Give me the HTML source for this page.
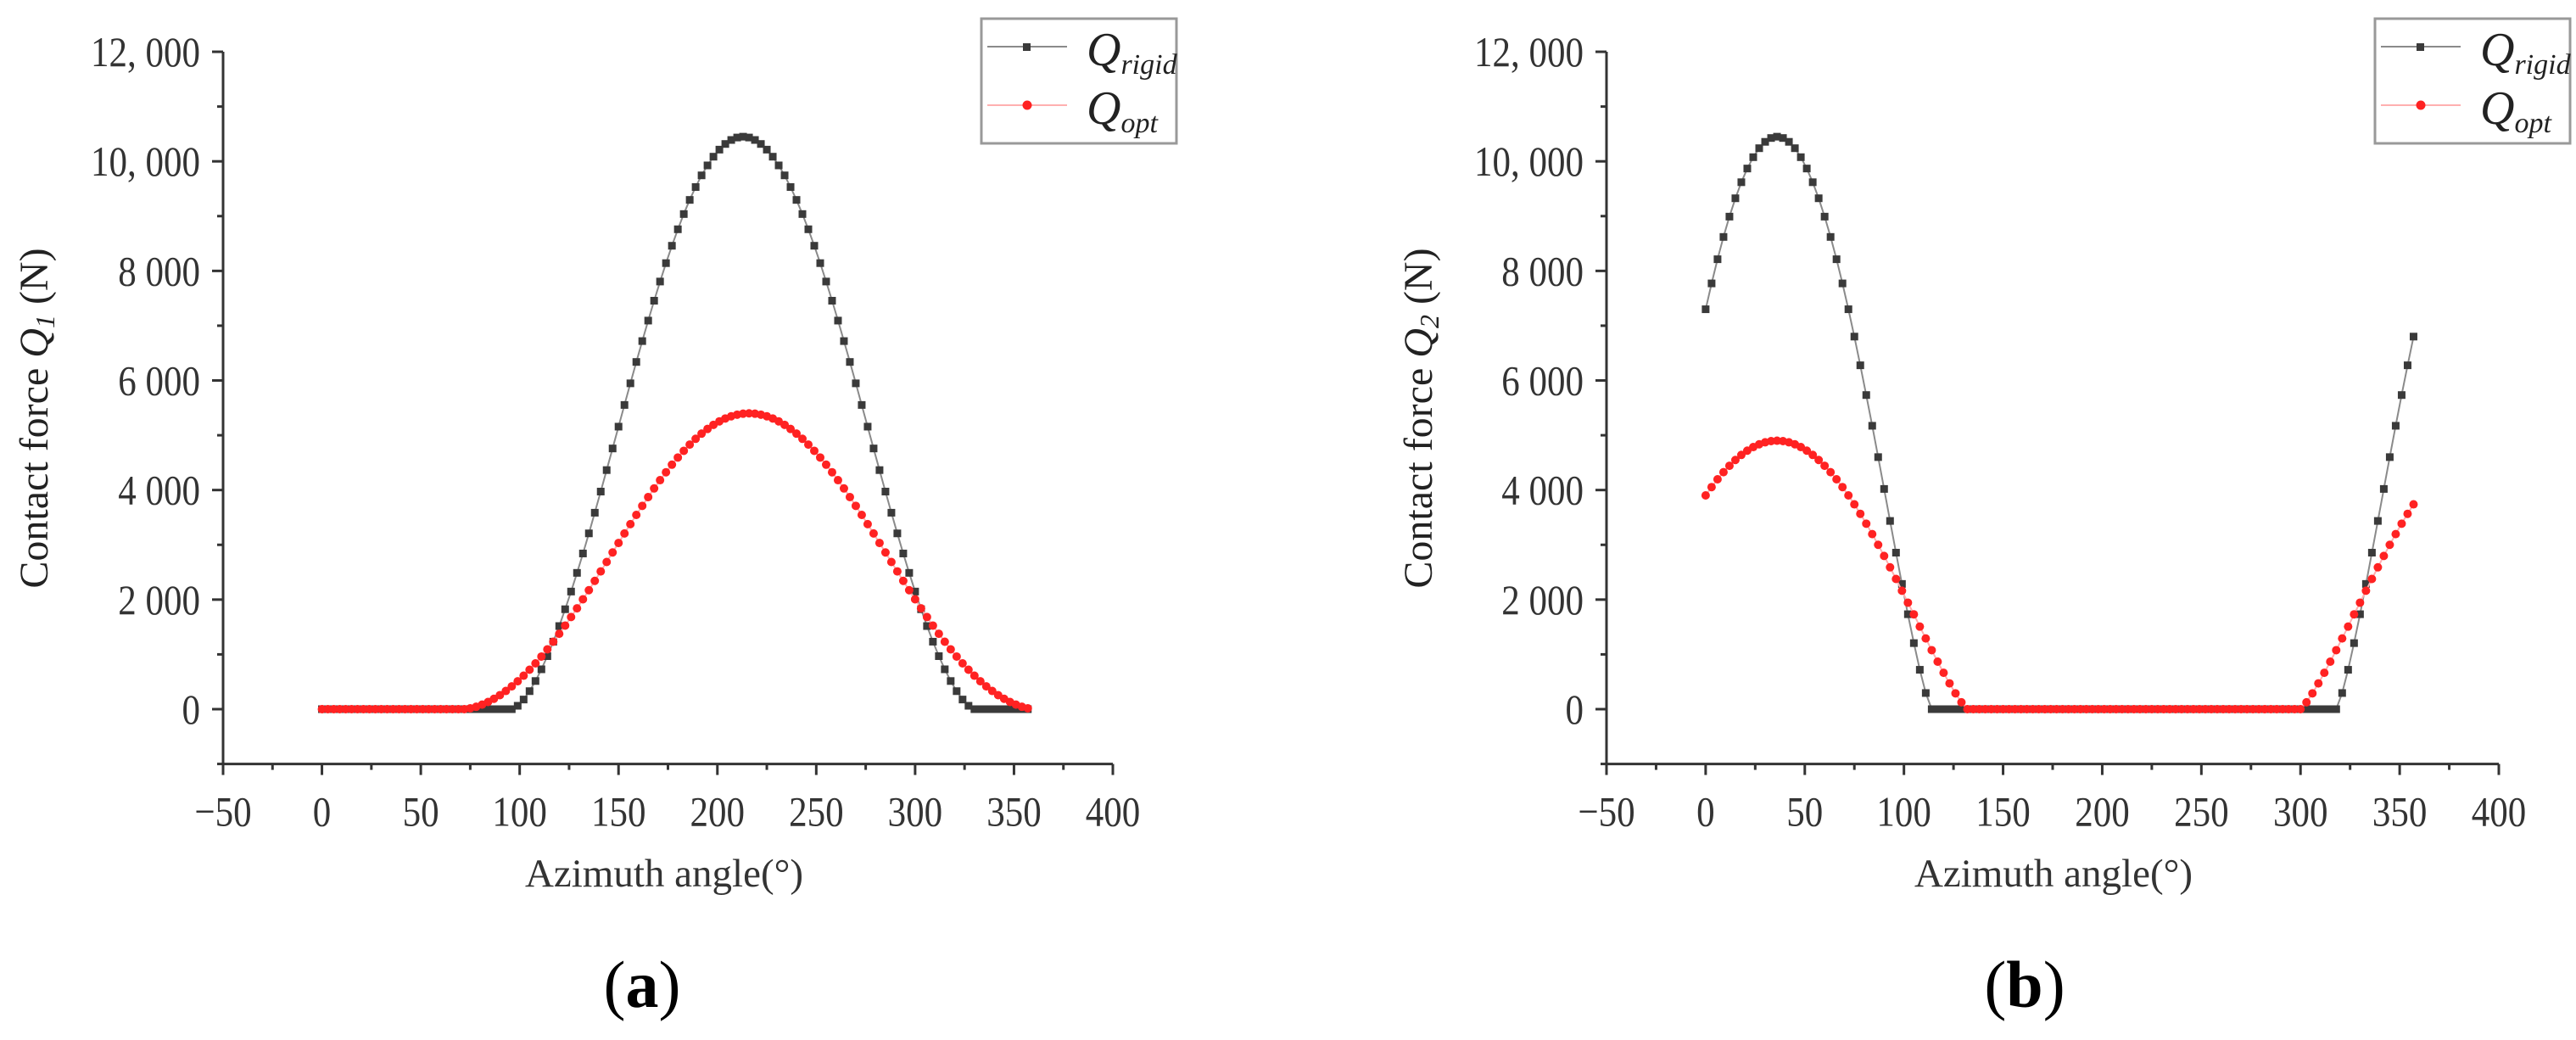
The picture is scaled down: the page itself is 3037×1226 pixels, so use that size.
<!DOCTYPE html>
<html><head><meta charset="utf-8"><style>
html,body{margin:0;padding:0;background:#fff;}
svg{display:block;font-family:"Liberation Serif",serif;}
</style></head><body>
<svg id="fig" width="3037" height="1226" viewBox="0 0 3037 1226" xmlns="http://www.w3.org/2000/svg"></svg>
<script>
const angles = [];
for (let a = 0; a <= 357; a += 3) angles.push(a);
const xTickLabels = ["\u221250","0","50","100","150","200","250","300","350","400"];
const xTickValues = [-50,0,50,100,150,200,250,300,350,400];
const yTickLabels = ["0","2 000","4 000","6 000","8 000","10, 000","12, 000"];
const yTickValues = [0,2000,4000,6000,8000,10000,12000];

const rigidA = [0,0,0,0,0,0,0,0,0,0,0,0,0,0,0,0,0,0,0,0,0,0,0,0,0,0,0,0,0,0,0,0,0,
62,176,329,514,728,968,1232,1517,1824,2147,2488,2842,3209,3586,3972,4364,4759,5157,5553,5948,6338,6719,7093,7456,7806,8142,8459,8760,9038,9296,9531,9744,9926,10085,10214,10317,10390,10435,10450,
10435,10390,10317,10214,10085,9926,9744,9531,9296,9038,8760,8459,8142,7806,7456,7093,6719,6338,5948,5553,5157,4759,4364,3972,3586,3209,2842,2488,2147,1824,1517,1232,968,728,514,329,176,62,
0,0,0,0,0,0,0,0,0,0];
const optA = [0,0,0,0,0,0,0,0,0,0,0,0,0,0,0,0,0,0,0,0,0,0,0,0,0,
16,44,83,132,190,256,332,416,509,611,720,836,961,1092,1231,1376,1526,1682,1841,2006,2172,2342,2515,2687,2861,3034,3207,3378,3546,3711,3872,4029,4180,4325,4463,4594,4716,4830,4935,5030,5115,5190,5254,5306,5347,5376,5394,5400,
5394,5376,5347,5306,5254,5190,5115,5030,4935,4830,4716,4594,4463,4325,4180,4029,3872,3711,3546,3378,3207,3034,2861,2687,2515,2342,2172,2006,1841,1682,1526,1376,1231,1092,961,836,720,611,509,416,332,256,190,132,83,44,16];
const rigidB = [7300,7772,8213,8620,8991,9326,9619,9869,10076,10240,10356,10426,10450,10426,10356,10240,10076,9869,9619,9326,8991,8620,8213,7772,7300,6801,6277,5734,5173,4601,4020,3436,2857,2286,1733,1206,719,295,0,
0,0,0,0,0,0,0,0,0,0,0,0,0,0,0,0,0,0,0,0,0,0,0,0,0,0,0,0,0,0,0,0,0,0,0,0,0,0,0,0,0,0,0,0,0,0,0,0,0,0,0,0,0,0,0,0,0,0,0,0,0,0,0,0,0,0,0,
0,295,719,1206,1733,2286,2857,3436,4020,4601,5173,5734,6277,6801];
const optB = [3902,4054,4196,4326,4443,4549,4641,4719,4784,4835,4871,4893,4900,4893,4871,4835,4784,4719,4641,4549,4443,4326,4196,4054,3902,3739,3566,3386,3196,3000,2797,2589,2377,2162,1944,1731,1507,1291,1077,867,664,471,289,126,
0,0,0,0,0,0,0,0,0,0,0,0,0,0,0,0,0,0,0,0,0,0,0,0,0,0,0,0,0,0,0,0,0,0,0,0,0,0,0,0,0,0,0,0,0,0,0,0,0,0,0,0,0,0,0,0,0,
126,289,471,664,867,1077,1291,1507,1731,1944,2162,2377,2589,2797,3000,3196,3386,3566,3739];

const NS = "http://www.w3.org/2000/svg";
const svg = document.getElementById('fig');
function mk(tag, attrs, parent, text){
  const e = document.createElementNS(NS, tag);
  for (const k in attrs) e.setAttribute(k, attrs[k]);
  if (text !== undefined) e.textContent = text;
  (parent||svg).appendChild(e);
  return e;
}

function panel(p){
  const g = mk('g', {});
  
  
  const X = v => p.x0 + (v - (-50)) / 450 * (p.x1 - p.x0);
  const Y = v => p.yZero - v / 1000 * p.per1000;
  const yTop = Y(12000), yBot = Y(-1000);
  const ax = mk('path', {d:`M${p.x0},${yTop} L${p.x0},${yBot} L${p.x1},${yBot}`, fill:'none', stroke:'#333', 'stroke-width':3}, g);
  
  
  for (let v = -1000; v <= 12000; v += 1000) {
    const major = v % 2000 === 0;
    mk('line', {x1:p.x0 - (major?13:7), x2:p.x0, y1:Y(v), y2:Y(v), stroke:'#333', 'stroke-width':3}, g);
  }
  yTickValues.forEach((v,i) => {
    const t = mk('text', {transform:`translate(${p.x0-27},${Y(v)+17}) scale(0.86,1)`, 'text-anchor':'end', 'font-size':50, fill:'#333'}, g, yTickLabels[i]);
    
    
  });
  for (let v = -50; v <= 400; v += 25) {
    const major = v % 50 === 0;
    mk('line', {x1:X(v), x2:X(v), y1:yBot, y2:yBot + (major?13:7), stroke:'#333', 'stroke-width':3}, g);
  }
  xTickValues.forEach((v,i) => {
    const t = mk('text', {transform:`translate(${X(v)},${yBot+73}) scale(0.86,1)`, 'text-anchor':'middle', 'font-size':50, fill:'#333'}, g, xTickLabels[i]);
    
    
  });
  const xt = mk('text', {x:p.xTitleX, y:1045, 'text-anchor':'middle', 'font-size':47, fill:'#333'}, g, 'Azimuth angle(\u00B0)');
  
  
  const yt = mk('text', {transform:`translate(${p.yTitleX},493) rotate(-90)`, 'text-anchor':'middle', 'font-size':48, fill:'#222'}, g);
  
  
  mk('tspan', {}, yt, 'Contact force ');
  mk('tspan', {'font-style':'italic'}, yt, 'Q');
  mk('tspan', {'font-style':'italic', 'font-size':32, dy:8}, yt, p.sub);
  mk('tspan', {dy:-8}, yt, ' (N)');
  function series(vals, color, lineColor, shape, nm){
    const sg = mk('g', {}, g);
    
    
    const d = vals.map((v,i) => (i?'L':'M') + X(angles[i]).toFixed(1) + ',' + Y(v).toFixed(1)).join(' ');
    mk('path', {d, fill:'none', stroke:lineColor, 'stroke-width':2}, sg);
    vals.forEach((v,i) => {
      let m;
      if (shape === 'sq') m = mk('rect', {x:X(angles[i])-4.5, y:Y(v)-4.5, width:9, height:9, fill:color}, sg);
      else m = mk('circle', {cx:X(angles[i]), cy:Y(v), r:5, fill:color}, sg);
      
      
    });
  }
  series(p.rigid, '#3a3a3a', '#8a8a8a', 'sq', 'series-q-rigid');
  series(p.opt, '#ff2222', '#ffb0b0', 'ci', 'series-q-opt');
  const lg = mk('g', {}, g);
  
  
  const bx = p.legX;
  mk('rect', {x:bx, y:22, width:230, height:147, fill:'#fff', stroke:'#999', 'stroke-width':3}, lg);
  mk('line', {x1:bx+7, x2:bx+101, y1:55, y2:55, stroke:'#8a8a8a', 'stroke-width':2}, lg);
  mk('rect', {x:bx+49, y:51, width:9, height:9, fill:'#3a3a3a'}, lg);
  mk('line', {x1:bx+7, x2:bx+101, y1:124, y2:124, stroke:'#ffb0b0', 'stroke-width':2}, lg);
  mk('circle', {cx:bx+54, cy:124, r:5.5, fill:'#ff2222'}, lg);
  const l1 = mk('text', {x:bx+124, y:77, 'font-size':56, 'font-style':'italic', fill:'#222'}, lg);
  
  
  mk('tspan', {}, l1, 'Q');
  mk('tspan', {'font-size':34, dy:10}, l1, 'rigid');
  const l2 = mk('text', {x:bx+124, y:146, 'font-size':56, 'font-style':'italic', fill:'#222'}, lg);
  
  
  mk('tspan', {}, l2, 'Q');
  mk('tspan', {'font-size':34, dy:10}, l2, 'opt');
  const c = mk('text', {x:p.capX, y:1187, 'text-anchor':'middle', 'font-size':78, fill:'#000'}, g);
  
  
  mk('tspan', {}, c, '(');
  mk('tspan', {'font-weight':'bold'}, c, p.cap);
  mk('tspan', {}, c, ')');
}

panel({name:'panel-a', x0:263, x1:1312, yZero:836, per1000:64.58, rigid:rigidA, opt:optA, sub:'1', legX:1157, xTitleX:783, yTitleX:56, capX:757, cap:'a'});
panel({name:'panel-b', x0:1894, x1:2946, yZero:836, per1000:64.58, rigid:rigidB, opt:optB, sub:'2', legX:2800, xTitleX:2421, yTitleX:1688, capX:2387, cap:'b'});
</script>
</body></html>
